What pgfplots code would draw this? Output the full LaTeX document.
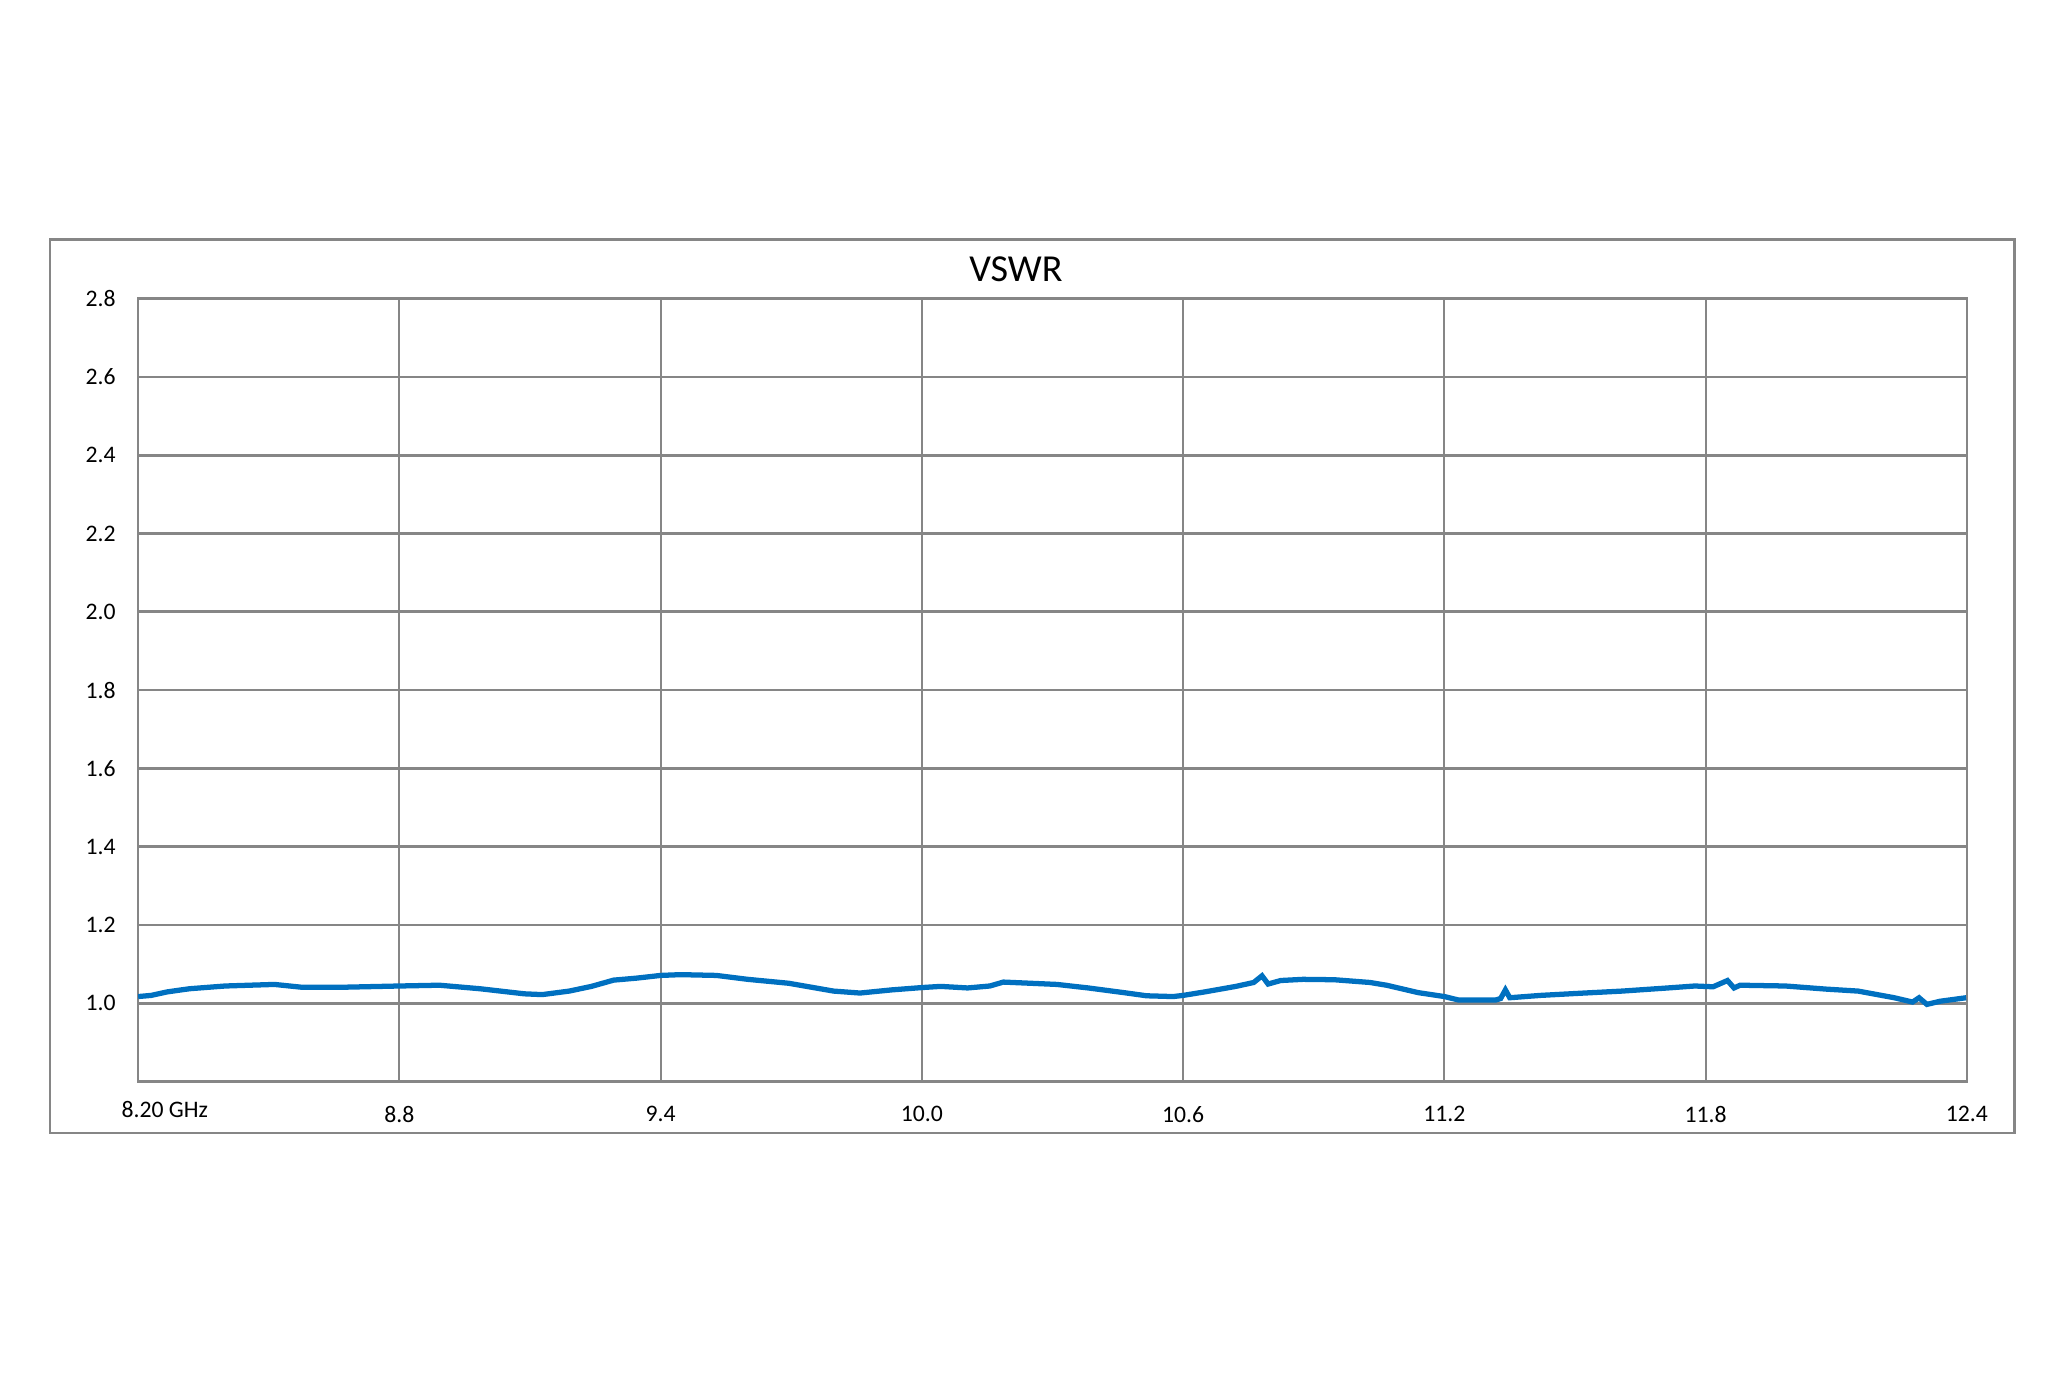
\documentclass[border=0pt]{standalone}
\usepackage{pgfplots}
\pgfplotsset{compat=1.18}
\usepackage{fontspec}
\setmainfont{Carlito}
\definecolor{gridgray}{RGB}{134,134,134}
\definecolor{vswrblue}{RGB}{0,112,192}
\begin{document}
\begin{tikzpicture}
% page size (1 px of a 1568x1045 layout = 0.5pt)
\path[use as bounding box] (-52.5pt,-111.5pt) rectangle (731.5pt,411pt);
% chart frame
\draw[gridgray, line width=0.9pt] (-33.5pt,-19.5pt) rectangle (713pt,320pt);
\begin{axis}[
	at={(0,0)}, anchor=south west,
	scale only axis,
	width=695pt, height=297.5pt,
	xmin=8.2, xmax=12.4,
	ymin=0.8, ymax=2.8,
	xtick={8.8,9.4,10.0,10.6,11.2,11.8,12.4},
	xticklabels={8.8,9.4,10.0,10.6,11.2,11.8,12.4},
	extra x ticks={8.2},
	extra x tick labels={8.20 GHz},
	extra x tick style={grid=none, xticklabel style={anchor=north west, xshift=-9.8pt, yshift=2pt}},
	ytick={1.0,1.2,1.4,1.6,1.8,2.0,2.2,2.4,2.6,2.8},
	yticklabel style={/pgf/number format/fixed, /pgf/number format/fixed zerofill, /pgf/number format/precision=1},
	/pgf/number format/assume math mode=true,
	major tick length=0pt,
	xticklabel style={font=\fontsize{9}{10}\selectfont, yshift=-6pt},
	yticklabel style={font=\fontsize{9}{10}\selectfont, xshift=-5pt},
	grid=major,
	major x grid style={gridgray, line width=0.75pt},
	major y grid style={gridgray, line width=1pt},
	axis line style={gridgray, line width=1pt},
	title={VSWR},
	title style={font=\fontsize{14.5}{16}\selectfont, at={(rel axis cs:0.48,1)}, anchor=south, yshift=-3pt},
]
\addplot[vswrblue, line width=2pt] coordinates {
	(8.200,1.017) (8.230,1.020) (8.267,1.029) (8.318,1.037) (8.400,1.044) (8.513,1.048)
	(8.574,1.041) (8.677,1.041) (8.800,1.044) (8.892,1.046) (8.985,1.037)
	(9.087,1.024) (9.128,1.022) (9.190,1.031) (9.241,1.043) (9.292,1.059)
	(9.344,1.064) (9.400,1.071) (9.446,1.073) (9.528,1.071) (9.600,1.061)
	(9.694,1.051) (9.797,1.031) (9.858,1.026) (9.930,1.034) (10.000,1.040)
	(10.043,1.043) (10.105,1.039) (10.156,1.044) (10.187,1.054) (10.249,1.051)
	(10.310,1.048) (10.382,1.039) (10.464,1.027) (10.516,1.019) (10.577,1.017)
	(10.600,1.020) (10.650,1.029) (10.721,1.043) (10.762,1.053) (10.781,1.070)
	(10.795,1.049) (10.824,1.058) (10.875,1.061) (10.947,1.060) (11.029,1.053)
	(11.067,1.046) (11.140,1.027) (11.200,1.017) (11.233,1.008) (11.317,1.008)
	(11.329,1.012) (11.340,1.034) (11.350,1.014) (11.421,1.020) (11.504,1.025)
	(11.608,1.031) (11.713,1.039) (11.775,1.044) (11.817,1.042) (11.850,1.058)
	(11.865,1.039) (11.879,1.046) (11.983,1.044) (12.077,1.036) (12.150,1.031)
	(12.233,1.014) (12.275,1.003) (12.290,1.014) (12.308,0.997) (12.338,1.005)
	(12.398,1.014)
};
\end{axis}
\end{tikzpicture}
\end{document}
